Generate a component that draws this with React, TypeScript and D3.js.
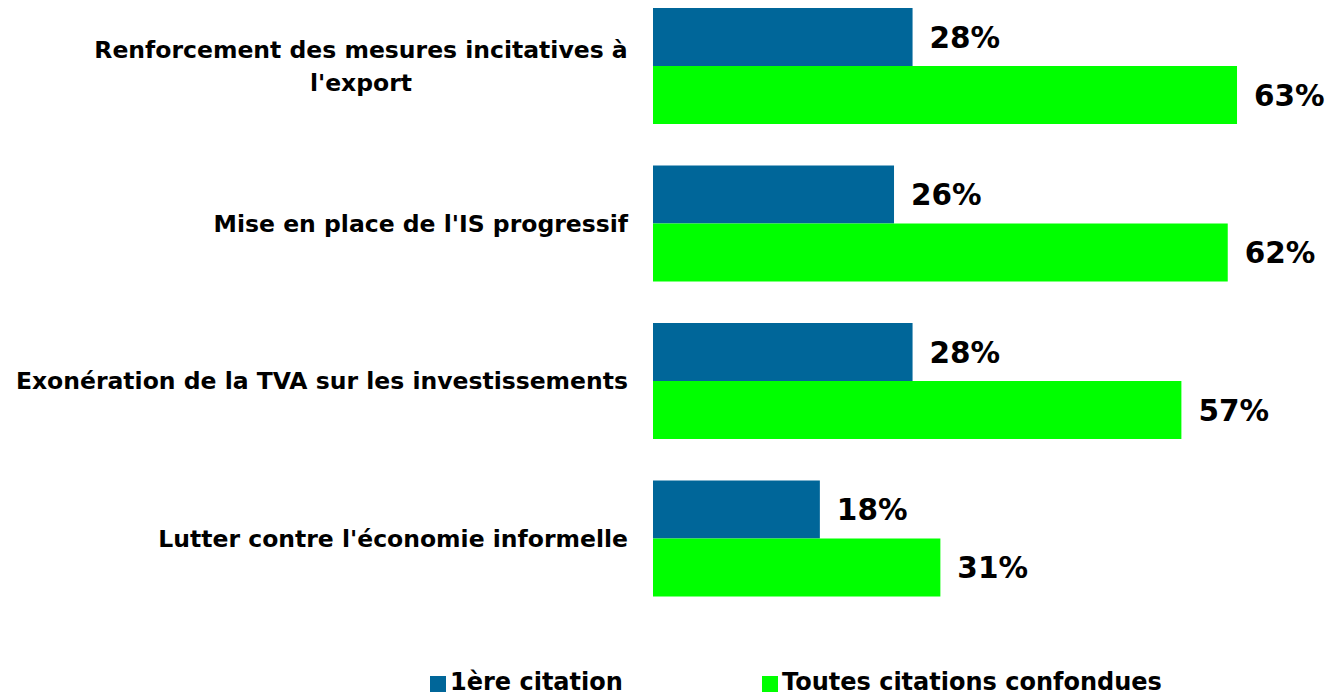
import React from "react";
import * as d3 from "d3";

// data
const categories = [
  ["Renforcement des mesures incitatives à", "l'export"],
  ["Mise en place de l'IS progressif"],
  ["Exonération de la TVA sur les investissements"],
  ["Lutter contre l'économie informelle"],
];
const premiere = [28, 26, 28, 18];
const toutes = [63, 62, 57, 31];
const seriesNames = ["1ère citation", "Toutes citations confondues"];
const colors = ["#006699", "#00ff00"];

const W = 1328;
const H = 693;
const FONT = "'DejaVu Sans', Tahoma, Verdana, sans-serif";

export default function App() {
  const keys = categories.map((c) => c.join(" "));

  const y = d3
    .scaleBand<string>()
    .domain(keys)
    .range([8, 596.5])
    .paddingInner(0.2635)
    .paddingOuter(0);

  const sub = d3
    .scaleBand<number>()
    .domain([0, 1])
    .range([0, y.bandwidth()]);

  const x = d3.scaleLinear().domain([0, 100]).range([653, 653 + 927]);

  const series = [premiere, toutes];

  return (
    <svg
      width={W}
      height={H}
      style={{ position: "absolute", left: 0, top: 0 }}
      fontFamily={FONT}
      fontWeight="bold"
    >
      <rect width={W} height={H} fill="#fff" />
      {keys.map((k, i) => {
        const y0 = y(k)!;
        const mid = y0 + y.bandwidth() / 2;
        const lines = categories[i];
        const lh = 33;
        const multi = lines.length > 1;
        return (
          <g key={k}>
            {lines.map((l, j) => (
              <text
                key={j}
                x={multi ? 361 : 628}
                y={mid + (j - (lines.length - 1) / 2) * lh}
                dy="0.36em"
                textAnchor={multi ? "middle" : "end"}
                fontSize={23.5}
                fill="#000"
              >
                {l}
              </text>
            ))}
            {series.map((s, si) => {
              const by = y0 + sub(si)!;
              return (
                <g key={si}>
                  <rect
                    x={x(0)}
                    y={by}
                    width={x(s[i]) - x(0)}
                    height={sub.bandwidth()}
                    fill={colors[si]}
                  />
                  <text
                    x={x(s[i]) + 17}
                    y={by + sub.bandwidth() / 2}
                    dy="0.36em"
                    fontSize={29.5}
                    fill="#000"
                  >
                    {s[i]}%
                  </text>
                </g>
              );
            })}
          </g>
        );
      })}
      {/* legend */}
      {seriesNames.map((n, i) => {
        const lx = [430, 762][i];
        return (
          <g key={n}>
            <rect x={lx} y={676} width={16} height={16} fill={colors[i]} />
            <text x={lx + 20} y={690} fontSize={24} fill="#000">
              {n}
            </text>
          </g>
        );
      })}
    </svg>
  );
}
